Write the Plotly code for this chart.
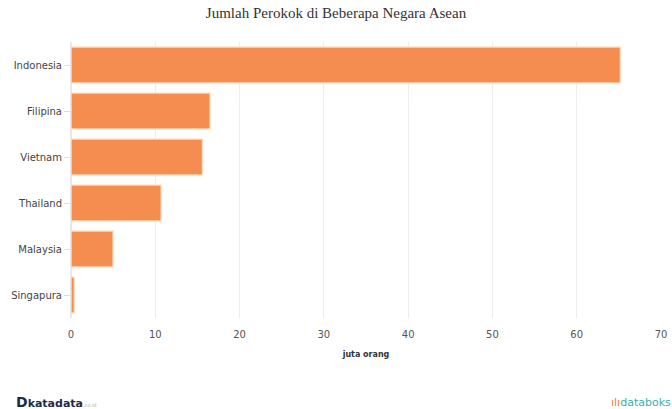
import plotly.graph_objects as go

countries = ["Indonesia", "Filipina", "Vietnam", "Thailand", "Malaysia", "Singapura"]
values = [65.19, 16.5, 15.6, 10.7, 5.0, 0.4]
x_ticks = [0, 10, 20, 30, 40, 50, 60, 70]

fig = go.Figure()
fig.add_trace(go.Bar(
    y=countries, x=values, orientation="h",
    marker=dict(color="#F48D4F", line=dict(color="rgba(255,225,200,0.9)", width=1.5)),
    hoverinfo="x+y",
))

fig.update_layout(
    width=672, height=409,
    margin=dict(l=71, r=11, t=42, b=91, autoexpand=False),
    paper_bgcolor="white", plot_bgcolor="white",
    bargap=0.22,
    showlegend=False,
    title=dict(text="Jumlah Perokok di Beberapa Negara Asean", x=0.5, xanchor="center",
               y=0.968, yanchor="middle",
               font=dict(family="Liberation Serif", size=15, color="#333333")),
    xaxis=dict(range=[0, 70], tickvals=x_ticks, showgrid=True, gridcolor="rgba(0,0,0,0.07)",
               gridwidth=1, zeroline=True, zerolinecolor="rgba(0,0,0,0.09)", showline=False,
               layer="above traces",
               ticks="outside", ticklen=7, tickcolor="rgba(0,0,0,0)", automargin=False,
               tickfont=dict(family="DejaVu Sans", size=10, color="#555555"),
               title=dict(text="<b>juta orang</b>", standoff=12,
                          font=dict(family="DejaVu Sans", size=8, color="#333333"))),
    yaxis=dict(categoryorder="array", categoryarray=countries[::-1], showgrid=False,
               ticks="outside", ticklen=6, tickcolor="#DDDDDD", showline=False,
               automargin=False,
               tickfont=dict(family="DejaVu Sans", size=10, color="#444444")),
    font=dict(family="DejaVu Sans"),
)

fig.add_annotation(xref="paper", yref="paper", x=-57/590, y=-84/276, xanchor="left", yanchor="middle",
                   text="<b><span style='font-size:14px'>D</span>katadata</b><span style='font-size:5px;color:#aaaaaa'>.co.id</span>",
                   showarrow=False, font=dict(family="DejaVu Sans", size=11, color="#1E2A4A"))
fig.add_annotation(xref="paper", yref="paper", x=1 + 12/590, y=-84/276, xanchor="right", yanchor="middle",
                   text="<span style='color:#F07C3A'>ılı</span>databoks",
                   showarrow=False, font=dict(family="DejaVu Sans", size=11, color="#3AB0A8"))

fig.write_html("out.html", config={"displayModeBar": False},
               post_script="document.body.style.margin='0';document.body.style.overflow='hidden';")
